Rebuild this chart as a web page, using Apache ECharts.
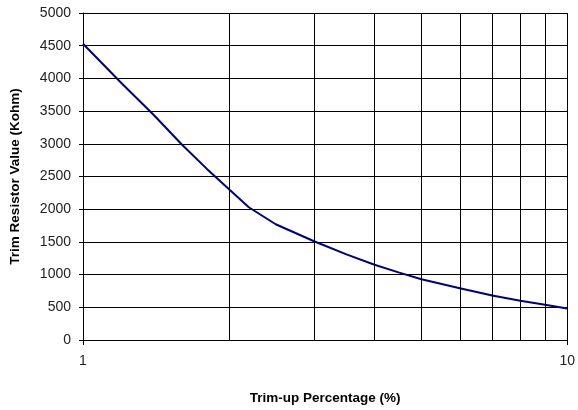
<!DOCTYPE html>
<html>
<head>
<meta charset="utf-8">
<script src="https://cdn.jsdelivr.net/npm/echarts@6/dist/echarts.min.js"></script>
<style>
  html, body { margin: 0; padding: 0; background: #fff; }
  #chart { width: 578px; height: 410px; }
</style>
</head>
<body>
<div id="chart"></div>
<script>
// Trim-up percentage (%) and the matching trim resistor value (Kohm)
const trimUpPercent = [1, 1.2, 1.4, 1.6, 1.8, 2, 2.2, 2.5, 3, 3.5, 4, 4.5, 5, 6, 7, 8, 9, 10];
const resistorKohm  = [4530, 3930, 3440, 2990, 2620, 2310, 2030, 1770, 1510, 1310, 1150, 1030, 930, 790, 680, 600, 540, 480];

// Decade grid lines on the logarithmic x axis
const xGridValues = [2, 3, 4, 5, 6, 7, 8, 9, 10];

const FONT = 'Liberation Sans, Arial, sans-serif';

const chart = echarts.init(document.getElementById('chart'), null, { renderer: 'canvas' });

chart.setOption({
  backgroundColor: '#fff',
  animation: false,
  grid: { left: 79, right: 8, top: 13, bottom: 61, containLabel: false },
  xAxis: {
    type: 'log',
    logBase: 10,
    min: 1,
    max: 10,
    name: 'Trim-up Percentage (%)',
    nameLocation: 'middle',
    nameGap: 51,
    nameTextStyle: { fontFamily: FONT, fontWeight: 'bold', fontSize: 13.5, color: '#000' },
    axisLine: { show: true, onZero: false, lineStyle: { color: '#000', width: 1 } },
    axisTick: { show: true, inside: false, length: 5, lineStyle: { color: '#000' } },
    axisLabel: { fontFamily: FONT, fontSize: 14, color: '#222', margin: 14, formatter: v => String(v) },
    splitLine: { show: false }
  },
  yAxis: {
    type: 'value',
    min: 0,
    max: 5000,
    interval: 500,
    name: 'Trim Resistor Value (Kohm)',
    nameLocation: 'middle',
    nameGap: 61,
    nameTextStyle: { fontFamily: FONT, fontWeight: 'bold', fontSize: 13.5, color: '#000' },
    axisLine: { show: true, lineStyle: { color: '#000', width: 1 } },
    axisTick: { show: true, inside: false, length: 4, lineStyle: { color: '#000' } },
    axisLabel: { fontFamily: FONT, fontSize: 14, color: '#222', margin: 12, formatter: v => String(v) },
    splitLine: { show: true, lineStyle: { color: '#000', width: 1 } }
  },
  series: [{
    type: 'line',
    data: trimUpPercent.map((x, i) => [x, resistorKohm[i]]),
    showSymbol: false,
    smooth: false,
    lineStyle: { color: '#000080', width: 2 },
    markLine: {
      silent: true,
      symbol: ['none', 'none'],
      label: { show: false },
      lineStyle: { color: '#000', width: 1, type: 'solid' },
      data: xGridValues.map(v => ({ xAxis: v }))
    },
    z: 3
  }]
});
</script>
</body>
</html>
